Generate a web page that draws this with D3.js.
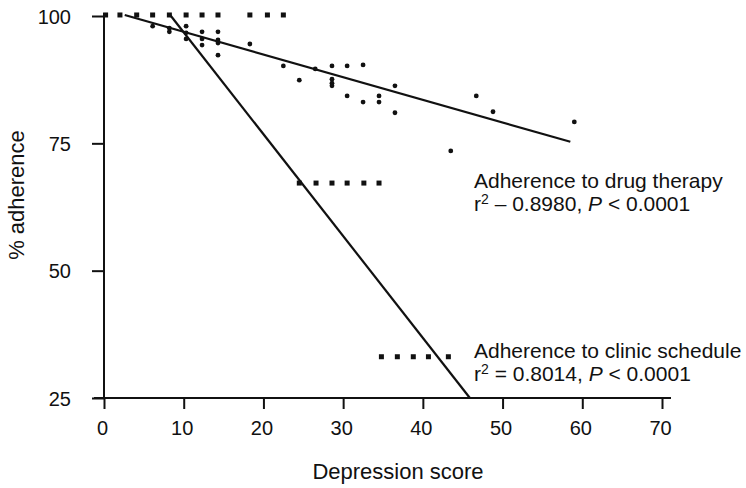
<!DOCTYPE html>
<html lang="en">
<head>
<meta charset="utf-8">
<title>% adherence vs. depression score</title>
<style>
  html, body { margin: 0; padding: 0; background: #fff; }
  svg { display: block; font-family: "Liberation Sans", Arial, Helvetica, sans-serif; }
  .axis text { font-size: 20px; fill: #111; }
  .axis line, .axis path { stroke: #111; stroke-width: 2; }
  .fit { fill: none; stroke: #111; stroke-width: 2.2; }
  .drug { fill: #111; }
  .clinic { fill: #111; }
  .title { font-size: 22px; fill: #111; }
  .note { font-size: 21px; fill: #111; }
</style>
</head>
<body>
<svg width="746" height="488"></svg>
<script src="https://cdn.jsdelivr.net/npm/d3@7"></script>
<script>
// tick values
var xTicks = [0, 10, 20, 30, 40, 50, 60, 70];
var yTicks = [25, 50, 75, 100];

// adherence to drug therapy (depression score, % adherence)
var drugX = [6.1, 8.2, 8.2, 10.3, 10.3, 10.3, 12.3, 12.3, 12.3, 14.3, 14.3, 14.3, 14.3,
             18.3, 22.5, 24.5, 26.5, 28.6, 28.6, 28.6, 28.6, 30.5, 30.5, 32.5, 32.5,
             34.5, 34.5, 36.5, 36.5, 43.5, 46.7, 48.8, 59.0];
var drugY = [98.0, 97.6, 96.9, 98.0, 96.7, 95.5, 96.9, 95.5, 94.3, 96.9, 95.3, 94.7, 92.3,
             94.5, 90.2, 87.4, 89.6, 90.2, 87.6, 86.8, 86.3, 90.2, 84.3, 90.4, 83.1,
             84.3, 83.1, 86.3, 81.0, 73.5, 84.3, 81.2, 79.2];

// adherence to clinic schedule
var clinicX = [0.2, 2.0, 4.1, 6.1, 8.2, 10.3, 12.3, 14.3, 18.3, 20.5, 22.5,
               24.5, 26.6, 28.6, 30.5, 32.6, 34.5,
               34.8, 36.8, 38.8, 40.7, 43.2];
var clinicY = [100.2, 100.2, 100.2, 100.2, 100.2, 100.2, 100.2, 100.2, 100.2, 100.2, 100.2,
               67.2, 67.2, 67.2, 67.2, 67.2, 67.2,
               33.1, 33.1, 33.1, 33.1, 33.1];

// regression lines (start / end)
var drugFitX = [2.6, 58.5], drugFitY = [100.2, 75.3];
var clinicFitX = [8.2, 45.9], clinicFitY = [100.4, 25.0];

var svg = d3.select("svg");

var x = d3.scaleLinear().domain([0, 70]).range([104, 662]),
    y = d3.scaleLinear().domain([25, 100]).range([398, 16]);

// axes
var gy = svg.append("g")
    .attr("class", "axis")
    .attr("transform", "translate(" + x(0) + ",0)")
    .call(d3.axisLeft(y).tickValues(yTicks).tickSize(12).tickSizeOuter(0).tickPadding(21));
gy.select(".domain").remove();
gy.selectAll("text").attr("dy", "0.36em");

var gx = svg.append("g")
    .attr("class", "axis")
    .attr("transform", "translate(0," + y(25) + ")")
    .call(d3.axisBottom(x).tickValues(xTicks).tickSize(11).tickSizeOuter(0).tickPadding(12));
gx.select(".domain").remove();
gx.selectAll("text").attr("dx", "-0.1em");

// axis lines
svg.append("line")
    .attr("x1", x(0)).attr("x2", x(0))
    .attr("y1", y(100) - 3).attr("y2", y(25))
    .attr("stroke", "#111").attr("stroke-width", 2);
svg.append("line")
    .attr("x1", x(0) - 10).attr("x2", x(70) + 9)
    .attr("y1", y(25)).attr("y2", y(25))
    .attr("stroke", "#111").attr("stroke-width", 2);

// titles
svg.append("text")
    .attr("class", "title")
    .attr("x", 398).attr("y", 479)
    .attr("text-anchor", "middle")
    .text("Depression score");

svg.append("text")
    .attr("class", "title")
    .attr("transform", "translate(24,195) rotate(-90)")
    .attr("text-anchor", "middle")
    .text("% adherence");

// fitted lines
var line = d3.line().x(function(d) { return x(d[0]); }).y(function(d) { return y(d[1]); });
svg.append("path").attr("class", "fit")
    .attr("d", line(d3.zip(drugFitX, drugFitY)));
svg.append("path").attr("class", "fit")
    .attr("d", line(d3.zip(clinicFitX, clinicFitY)));

// points
svg.selectAll(".clinic")
    .data(d3.zip(clinicX, clinicY))
    .enter().append("rect")
      .attr("class", "clinic")
      .attr("x", function(d) { return x(d[0]) - 2.5; })
      .attr("y", function(d) { return y(d[1]) - 2.5; })
      .attr("width", 5)
      .attr("height", 5);

svg.selectAll(".drug")
    .data(d3.zip(drugX, drugY))
    .enter().append("circle")
      .attr("class", "drug")
      .attr("cx", function(d) { return x(d[0]); })
      .attr("cy", function(d) { return y(d[1]); })
      .attr("r", 2.4);

// annotations
function note(yy, parts) {
  var t = svg.append("text").attr("class", "note").attr("x", 474).attr("y", yy);
  parts.forEach(function(p) {
    var s = t.append("tspan").text(p.t);
    if (p.sup) s.attr("font-size", "14px").attr("dy", "-0.5em");
    if (p.down) s.attr("dy", "0.33em");
    if (p.i) s.attr("font-style", "italic");
  });
}
note(188, [{t: "Adherence to drug therapy"}]);
note(211, [{t: "r"}, {t: "2", sup: true}, {t: " \u2013 0.8980, ", down: true}, {t: "P", i: true}, {t: " < 0.0001"}]);
note(358, [{t: "Adherence to clinic schedule"}]);
note(381, [{t: "r"}, {t: "2", sup: true}, {t: " = 0.8014, ", down: true}, {t: "P", i: true}, {t: " < 0.0001"}]);
</script>
</body>
</html>
